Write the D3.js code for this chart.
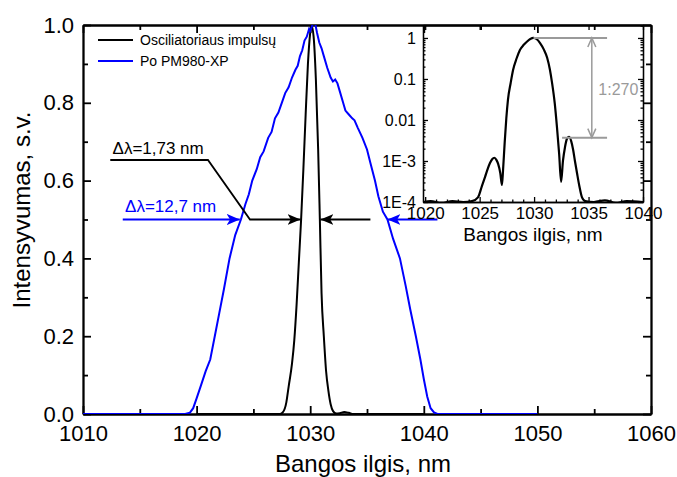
<!DOCTYPE html>
<html>
<head>
<meta charset="utf-8">
<script src="https://cdn.jsdelivr.net/npm/d3@7"></script>
<style>
  body { margin: 0; background: #fff; }
  svg { font-family: "Liberation Sans", Arial, sans-serif; }
  .axis path, .axis line { stroke: #000; stroke-width: 1.8; }
  .inset .axis path, .inset .axis line { stroke-width: 1.3; }
</style>
</head>
<body>
<svg id="chart"></svg>
<script>
// main plot: wavelength (nm) vs intensity (a.u.)
const blueWl = [1010, 1015, 1019.0, 1019.4, 1019.7, 1020.0, 1020.4, 1020.8, 1021.2, 1021.6, 1022.0, 1022.4, 1022.9,
  1023.4, 1023.9, 1024.3, 1024.6, 1024.9, 1025.3, 1025.6, 1025.9, 1026.3, 1026.6, 1026.9, 1027.2, 1027.5, 1027.8,
  1028.1, 1028.4, 1028.7, 1028.9, 1029.1, 1029.3, 1029.5, 1029.7, 1029.9, 1030.0, 1030.2, 1030.4, 1030.6, 1030.8,
  1031.0, 1031.2, 1031.5, 1031.8, 1032.0, 1032.2, 1032.4, 1032.6, 1032.9, 1033.1, 1033.4, 1033.7, 1033.9, 1034.2,
  1034.6, 1035.0, 1035.3, 1035.7, 1036.0, 1036.4, 1036.8, 1037.3, 1037.9, 1038.4, 1038.8, 1039.3, 1039.7, 1040.0,
  1040.3, 1040.6, 1040.9, 1041.2, 1045, 1050];
const blueInt = [0, 0, 0, 0.003, 0.015, 0.04, 0.075, 0.11, 0.14, 0.2, 0.26, 0.32, 0.40,
  0.46, 0.50, 0.54, 0.565, 0.60, 0.63, 0.66, 0.675, 0.71, 0.725, 0.76, 0.775, 0.80, 0.825,
  0.84, 0.865, 0.885, 0.895, 0.92, 0.935, 0.96, 0.97, 0.99, 0.985, 1.0, 1.01, 0.98, 0.955,
  0.94, 0.92, 0.89, 0.865, 0.855, 0.86, 0.85, 0.83, 0.80, 0.78, 0.77, 0.76, 0.755, 0.735,
  0.71, 0.68, 0.645, 0.60, 0.56, 0.52, 0.50, 0.45, 0.40, 0.33, 0.27, 0.20, 0.14, 0.09,
  0.045, 0.015, 0.004, 0, 0, 0];

const oscWl = [1020, 1026, 1027.3, 1027.6, 1027.9, 1028.1, 1028.4, 1028.6, 1028.8, 1029.0, 1029.2, 1029.4,
  1029.6, 1029.8, 1030.0, 1030.1, 1030.3, 1030.5, 1030.7, 1030.85, 1031.0, 1031.2, 1031.4, 1031.6, 1031.8,
  1032.0, 1032.3, 1032.6, 1033.0, 1033.4, 1033.8, 1040];
const oscInt = [0, 0, 0, 0.005, 0.03, 0.07, 0.13, 0.19, 0.28, 0.39, 0.50, 0.63,
  0.77, 0.90, 0.98, 1.0, 0.97, 0.86, 0.68, 0.50, 0.31, 0.20, 0.11, 0.06, 0.025,
  0.008, 0.001, 0.002, 0.005, 0.003, 0, 0];

// inset: oscillator spectrum on log scale
const insetWl = [1019.8, 1020.5, 1021.5, 1022.5, 1023.5, 1024.3, 1024.85, 1025.2, 1025.5, 1025.75, 1025.95,
  1026.15, 1026.35, 1026.55, 1026.7, 1026.9, 1027.05, 1027.15, 1027.3, 1027.45, 1027.6, 1027.85, 1028.07,
  1028.4, 1028.7, 1029.05, 1029.36, 1029.65, 1029.95, 1030.25, 1030.55, 1030.9, 1031.2, 1031.45, 1031.65,
  1031.9, 1032.1, 1032.3, 1032.48, 1032.65, 1032.84, 1033.0, 1033.2, 1033.4, 1033.58, 1033.75, 1033.94,
  1034.15, 1034.4, 1034.7, 1035.5, 1036.5, 1037.5, 1038.5, 1040];
const insetInt = [1e-4, 1.05e-4, 0.95e-4, 1.05e-4, 1e-4, 1.05e-4, 1.3e-4, 2.4e-4, 4.1e-4, 6.5e-4, 8.9e-4,
  1.1e-3, 1.2e-3, 1.05e-3, 8.5e-4, 5e-4, 2.6e-4, 6e-4, 2.8e-3, 0.011, 0.031, 0.08, 0.166,
  0.32, 0.51, 0.68, 0.82, 0.94, 1.0, 0.93, 0.75, 0.52, 0.33, 0.17, 0.08,
  0.025, 6.7e-3, 1.5e-3, 3.1e-4, 1.0e-3, 2.2e-3, 3.4e-3, 3.9e-3, 3.1e-3, 1.9e-3, 1.0e-3, 5.1e-4,
  2.5e-4, 1.3e-4, 1.05e-4, 1e-4, 1.1e-4, 0.95e-4, 1.05e-4, 1e-4];

const xTicks = [1010, 1020, 1030, 1040, 1050, 1060];
const yTicks = [0.0, 0.2, 0.4, 0.6, 0.8, 1.0];
const insetXTicks = [1020, 1025, 1030, 1035, 1040];
const insetYTicks = [1, 0.1, 0.01, 1e-3, 1e-4];
const insetYLabels = ['1', '0.1', '0.01', '1E-3', '1E-4'];

const legendLabels = ['Osciliatoriaus impulsų', 'Po PM980-XP'];
const fwhmLabels = ['Δλ=1,73 nm', 'Δλ=12,7 nm'];
// annotation anchors in data units [wavelength, intensity]
const oscLeader = [[1012.4, 0.653], [1021.0, 0.653], [1024.7, 0.5], [1029.15, 0.5]];
const oscRightArrow = [[1035.3, 0.5], [1030.9, 0.5]];
const blueLeftArrow = [[1013.5, 0.5], [1023.8, 0.5]];
const blueRightArrow = [[1041.2, 0.5], [1036.8, 0.5]];
const fwhmTextPos = [[1012.6, 0.668], [1013.7, 0.519]];
const ratioLabel = '1:270';
const ratioLow = 1 / 270;

const W = 677, H = 477;
const m = { left: 83, top: 25, width: 568, height: 389 };
const ins = { left: 423, top: 25, width: 220, height: 177 };

const svg = d3.select('#chart').attr('width', W).attr('height', H);
const defs = svg.append('defs');

function marker(id, color, len, half) {
  defs.append('marker')
    .attr('id', id)
    .attr('markerUnits', 'userSpaceOnUse')
    .attr('markerWidth', len).attr('markerHeight', half * 2)
    .attr('refX', len).attr('refY', half)
    .attr('orient', 'auto')
    .append('path')
    .attr('d', `M0,0L${len},${half}L0,${half * 2}L${len * 0.25},${half}Z`)
    .attr('fill', color);
}
marker('arrBlack', '#000', 13, 5.5);
marker('arrBlue', '#0000ff', 13, 5.5);

// ---------- main plot ----------
const x = d3.scaleLinear().domain([1010, 1060]).range([0, m.width]);
const y = d3.scaleLinear().domain([0, 1]).range([m.height, 0]);

const g = svg.append('g').attr('transform', `translate(${m.left},${m.top})`);

g.append('clipPath').attr('id', 'clipMain')
  .append('rect').attr('width', m.width).attr('height', m.height);

const xMinor = d3.range(1015, 1060, 10);
const yMinor = d3.range(0.1, 1.0, 0.2);

function addAxis(parent, axis, tx, ty, labels) {
  const a = parent.append('g').attr('class', 'axis')
    .attr('transform', `translate(${tx},${ty})`).call(axis);
  if (!labels) a.selectAll('text').remove();
  a.select('.domain').attr('stroke-width', 1.8);
  return a;
}

const xAx = addAxis(g, d3.axisBottom(x).tickValues(xTicks).tickSize(-8).tickSizeOuter(0).tickPadding(11)
  .tickFormat(d3.format('d')), 0, m.height, true);
addAxis(g, d3.axisBottom(x).tickValues(xMinor).tickSize(-5).tickSizeOuter(0), 0, m.height, false);
addAxis(g, d3.axisTop(x).tickValues(xTicks).tickSize(-8).tickSizeOuter(0), 0, 0, false);
addAxis(g, d3.axisTop(x).tickValues(xMinor).tickSize(-5).tickSizeOuter(0), 0, 0, false);
const yAx = addAxis(g, d3.axisLeft(y).tickValues(yTicks).tickSize(-8).tickSizeOuter(0).tickPadding(9).tickFormat(d3.format('.1f')), 0, 0, true);
addAxis(g, d3.axisLeft(y).tickValues(yMinor).tickSize(-5).tickSizeOuter(0), 0, 0, false);
addAxis(g, d3.axisRight(y).tickValues(yTicks).tickSize(-8).tickSizeOuter(0), m.width, 0, false);
addAxis(g, d3.axisRight(y).tickValues(yMinor).tickSize(-5).tickSizeOuter(0), m.width, 0, false);

[xAx, yAx].forEach(a => a.selectAll('text').attr('font-size', 22).attr('fill', '#000')
  .attr('font-family', '"Liberation Sans", Arial, sans-serif'));

const line = d3.line().x(d => x(d[0])).y(d => y(d[1]));

g.append('path')
  .datum(oscWl.map((w, i) => [w, oscInt[i]]))
  .attr('clip-path', 'url(#clipMain)')
  .attr('fill', 'none').attr('stroke', '#000').attr('stroke-width', 2)
  .attr('d', line.curve(d3.curveMonotoneX));

g.append('path')
  .datum(blueWl.map((w, i) => [w, blueInt[i]]))
  .attr('clip-path', 'url(#clipMain)')
  .attr('fill', 'none').attr('stroke', '#0000ff').attr('stroke-width', 2)
  .attr('d', d3.line().x(d => x(d[0])).y(d => y(d[1]))(blueWl.map((w, i) => [w, blueInt[i]])));

// FWHM annotations
const plain = d3.line().x(d => x(d[0])).y(d => y(d[1]));
[[oscLeader, '#000', 'arrBlack'], [oscRightArrow, '#000', 'arrBlack'],
 [blueLeftArrow, '#0000ff', 'arrBlue'], [blueRightArrow, '#0000ff', 'arrBlue']].forEach(([pts, c, mk]) => {
  g.append('path').attr('d', plain(pts)).attr('fill', 'none')
    .attr('stroke', c).attr('stroke-width', 1.8).attr('marker-end', `url(#${mk})`);
});
fwhmLabels.forEach((t, i) => {
  g.append('text').attr('x', x(fwhmTextPos[i][0])).attr('y', y(fwhmTextPos[i][1]))
    .attr('font-size', 17).attr('fill', i ? '#0000ff' : '#000').text(t);
});

// legend
legendLabels.forEach((t, i) => {
  const ly = 15 + i * 21;
  g.append('line').attr('x1', 15).attr('x2', 50).attr('y1', ly).attr('y2', ly)
    .attr('stroke', i ? '#0000ff' : '#000').attr('stroke-width', 2);
  g.append('text').attr('x', 57).attr('y', ly + 5).attr('font-size', 14).attr('fill', '#000').text(t);
});

// axis titles
svg.append('text').attr('x', m.left + m.width / 2 - 4).attr('y', 472)
  .attr('text-anchor', 'middle').attr('font-size', 24).text('Bangos ilgis, nm');
svg.append('text').attr('transform', 'translate(30,210) rotate(-90)')
  .attr('text-anchor', 'middle').attr('font-size', 24).text('Intensyvumas, s.v.');

// ---------- inset ----------
const ix = d3.scaleLinear().domain([1019.8, 1040]).range([0, ins.width]);
const iy = d3.scaleLog().domain([1e-4, 2.07]).range([ins.height, 0]);

const gi = svg.append('g').attr('class', 'inset').attr('transform', `translate(${ins.left},${ins.top})`);
gi.append('clipPath').attr('id', 'clipInset')
  .append('rect').attr('width', ins.width).attr('height', ins.height + 1);

const ixMinor = d3.range(1020, 1041, 1).filter(v => v % 5 !== 0);
const iyMinor = [];
[1e-4, 1e-3, 1e-2, 1e-1, 1].forEach(d => d3.range(2, 10).forEach(k => { if (d * k < 2.07) iyMinor.push(d * k); }));

function insetAxis(axis, tx, ty, labels) {
  const a = gi.append('g').attr('class', 'axis').attr('transform', `translate(${tx},${ty})`).call(axis);
  if (!labels) a.selectAll('text').remove();
  a.select('.domain').attr('stroke-width', 1.3);
  a.selectAll('line').attr('stroke-width', 1);
  return a;
}
const ixAx = insetAxis(d3.axisBottom(ix).tickValues(insetXTicks).tickSize(-5).tickSizeOuter(0).tickPadding(5)
  .tickFormat(d3.format('d')), 0, ins.height, true);
insetAxis(d3.axisBottom(ix).tickValues(ixMinor).tickSize(-2.5).tickSizeOuter(0), 0, ins.height, false);
const iyAx = insetAxis(d3.axisLeft(iy).tickValues(insetYTicks).tickSize(-5).tickSizeOuter(0).tickPadding(7)
  .tickFormat((d, i) => insetYLabels[i]), 0, 0, true);
insetAxis(d3.axisLeft(iy).tickValues(iyMinor).tickSize(-2.5).tickSizeOuter(0), 0, 0, false);
insetAxis(d3.axisRight(iy).tickValues(insetYTicks).tickSize(-5).tickSizeOuter(0), ins.width, 0, false);
insetAxis(d3.axisRight(iy).tickValues(iyMinor).tickSize(-2.5).tickSizeOuter(0), ins.width, 0, false);
insetAxis(d3.axisTop(ix).tickValues(insetXTicks).tickSize(-5).tickSizeOuter(0), 0, 0, false);

ixAx.selectAll('text').attr('font-size', 17).attr('fill', '#000').attr('font-family', '"Liberation Sans", Arial, sans-serif');
iyAx.selectAll('text').attr('font-size', 16).attr('fill', '#000').attr('font-family', '"Liberation Sans", Arial, sans-serif');

gi.append('path')
  .datum(insetWl.map((w, i) => [w, insetInt[i]]))
  .attr('clip-path', 'url(#clipInset)')
  .attr('fill', 'none').attr('stroke', '#000').attr('stroke-width', 2.2)
  .attr('d', d3.line().x(d => ix(d[0])).y(d => iy(d[1])).curve(d3.curveMonotoneX));

// 1:270 contrast annotation
const grey = '#9a9a9a';
gi.append('line').attr('x1', ix(1029.95)).attr('x2', ix(1036.7)).attr('y1', iy(1)).attr('y2', iy(1))
  .attr('stroke', grey).attr('stroke-width', 2);
gi.append('line').attr('x1', ix(1032.57)).attr('x2', ix(1036.7)).attr('y1', iy(ratioLow)).attr('y2', iy(ratioLow))
  .attr('stroke', grey).attr('stroke-width', 2);
const ax = ix(1035.3);
gi.append('line').attr('x1', ax).attr('x2', ax).attr('y1', iy(1)).attr('y2', iy(ratioLow))
  .attr('stroke', grey).attr('stroke-width', 1.5);
[[iy(1), 1], [iy(ratioLow), -1]].forEach(([yy, s]) => {
  gi.append('path').attr('d', `M${ax - 4},${yy + s * 9}L${ax},${yy}L${ax + 4},${yy + s * 9}`)
    .attr('fill', 'none').attr('stroke', grey).attr('stroke-width', 1.5);
});
gi.append('text').attr('x', ix(1035.9)).attr('y', 70).attr('font-size', 16).attr('fill', grey)
  .text(ratioLabel);

svg.append('text').attr('x', ins.left + ins.width / 2).attr('y', 241)
  .attr('text-anchor', 'middle').attr('font-size', 19).text('Bangos ilgis, nm');
</script>
</body>
</html>
